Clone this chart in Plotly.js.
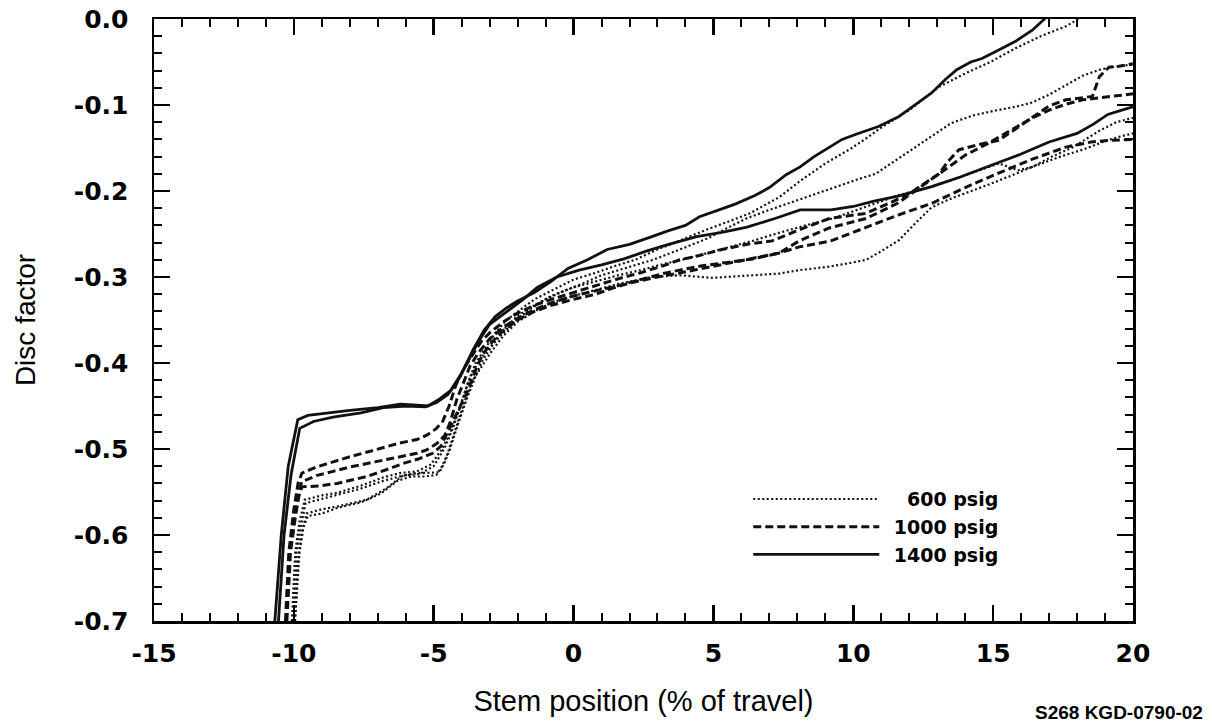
<!DOCTYPE html>
<html>
<head>
<meta charset="utf-8">
<script src="https://cdn.plot.ly/plotly-3.0.1.min.js"></script>
<style>html,body{margin:0;padding:0;background:#fff;}#chart{width:1212px;height:724px;}</style>
</head>
<body>
<div id="chart"></div>
<script>
// ---- Data ----
// 1400 psig (solid)
const s1400aX = [-10.68,-10.45,-10.2,-10.0,-9.86,-9.5,-9.0,-8.0,-7.0,-6.2,-5.6,-5.2,-4.8,-4.4,-4.0,-3.6,-3.2,-2.8,-2.4,-2.0,-1.4,-0.8,-0.2,0.5,1.2,2.0,2.8,3.4,4.0,4.5,5.2,5.8,6.5,7.0,7.6,8.1,8.6,9.1,9.6,10.1,10.9,11.6,12.2,12.8,13.3,13.7,14.2,14.6,15.2,15.8,16.4,16.7,17.0];
const s1400aY = [-0.70,-0.60,-0.52,-0.49,-0.466,-0.461,-0.459,-0.455,-0.452,-0.448,-0.449,-0.450,-0.442,-0.432,-0.412,-0.385,-0.362,-0.346,-0.336,-0.328,-0.318,-0.305,-0.290,-0.280,-0.268,-0.262,-0.253,-0.246,-0.240,-0.230,-0.222,-0.215,-0.205,-0.196,-0.181,-0.172,-0.160,-0.150,-0.140,-0.134,-0.125,-0.114,-0.100,-0.086,-0.070,-0.059,-0.050,-0.046,-0.036,-0.026,-0.013,-0.004,0.005];
const s1400bX = [-10.55,-10.35,-10.1,-9.9,-9.79,-9.3,-8.6,-7.6,-6.8,-6.0,-5.3,-4.9,-4.5,-4.18,-3.8,-3.4,-3.0,-2.6,-2.2,-1.8,-1.3,-0.6,0.2,1.0,1.8,2.6,3.4,4.4,5.3,6.2,7.2,8.1,9.2,10.0,10.7,11.6,12.8,13.8,15.1,16.0,17.0,18.0,18.6,19.1,19.6,20.0];
const s1400bY = [-0.70,-0.60,-0.53,-0.495,-0.476,-0.468,-0.463,-0.458,-0.452,-0.450,-0.451,-0.446,-0.437,-0.423,-0.400,-0.375,-0.355,-0.345,-0.335,-0.326,-0.312,-0.300,-0.292,-0.286,-0.279,-0.270,-0.262,-0.253,-0.248,-0.242,-0.232,-0.222,-0.222,-0.218,-0.212,-0.206,-0.195,-0.184,-0.168,-0.157,-0.143,-0.133,-0.122,-0.111,-0.106,-0.102];

// 1000 psig (dashed)
const s1000aX = [-10.30,-10.18,-10.0,-9.85,-9.71,-9.2,-8.6,-8.0,-7.2,-6.21,-5.6,-5.25,-4.9,-4.68,-4.45,-4.2,-3.9,-3.6,-3.3,-3.0,-2.5,-2.0,-1.4,-0.8,0.0,0.8,1.6,2.4,3.2,3.8,4.5,5.3,6.2,7.1,8.07,9.14,10.45,11.3,12.0,12.6,13.06,13.4,13.78,14.5,15.2,15.8,16.4,17.0,17.6,18.2,18.55,18.8,19.14,19.5,20.0];
const s1000aY = [-0.70,-0.62,-0.57,-0.54,-0.528,-0.521,-0.515,-0.509,-0.502,-0.493,-0.489,-0.484,-0.476,-0.468,-0.450,-0.425,-0.405,-0.390,-0.375,-0.365,-0.352,-0.342,-0.333,-0.326,-0.318,-0.310,-0.302,-0.295,-0.287,-0.280,-0.275,-0.268,-0.262,-0.258,-0.245,-0.232,-0.226,-0.214,-0.203,-0.190,-0.180,-0.165,-0.152,-0.146,-0.141,-0.128,-0.114,-0.101,-0.094,-0.091,-0.090,-0.067,-0.056,-0.055,-0.052];
const s1000bX = [-10.27,-10.15,-9.98,-9.84,-9.71,-9.2,-8.6,-8.0,-7.1,-6.21,-5.6,-5.25,-4.9,-4.6,-4.4,-4.18,-3.95,-3.71,-3.4,-3.0,-2.5,-2.0,-1.4,-0.8,0.0,0.8,1.6,2.4,3.2,3.79,4.6,5.5,6.4,7.36,8.07,9.14,10.45,11.6,12.83,13.5,14.02,14.8,15.7,16.4,17.0,17.6,18.2,19.0,19.5,20.0];
const s1000bY = [-0.70,-0.62,-0.575,-0.55,-0.538,-0.531,-0.526,-0.521,-0.515,-0.509,-0.505,-0.501,-0.494,-0.484,-0.468,-0.443,-0.423,-0.404,-0.388,-0.372,-0.358,-0.348,-0.338,-0.330,-0.322,-0.316,-0.310,-0.303,-0.296,-0.292,-0.287,-0.283,-0.279,-0.272,-0.258,-0.243,-0.232,-0.214,-0.185,-0.170,-0.158,-0.145,-0.128,-0.115,-0.106,-0.099,-0.094,-0.091,-0.089,-0.087];
const s1000cX = [-10.25,-10.12,-9.95,-9.82,-9.71,-9.1,-8.46,-7.39,-6.6,-6.11,-5.5,-5.04,-4.75,-4.5,-4.2,-3.82,-3.5,-3.25,-2.9,-2.5,-2.0,-1.4,-0.8,0.0,0.8,1.4,2.0,3.0,4.0,4.96,6.0,7.36,8.07,9.2,10.45,11.6,12.83,14.0,15.21,16.4,17.6,18.5,19.2,20.0];
const s1000cY = [-0.70,-0.62,-0.58,-0.555,-0.544,-0.543,-0.540,-0.532,-0.523,-0.517,-0.511,-0.505,-0.497,-0.480,-0.460,-0.435,-0.408,-0.390,-0.375,-0.362,-0.350,-0.340,-0.333,-0.326,-0.320,-0.313,-0.307,-0.300,-0.294,-0.288,-0.281,-0.272,-0.265,-0.258,-0.242,-0.228,-0.214,-0.196,-0.179,-0.163,-0.149,-0.143,-0.141,-0.140];

// 600 psig (dotted)
const s600aX = [-10.07,-9.95,-9.8,-9.61,-9.0,-8.46,-7.54,-6.8,-6.21,-5.6,-5.1,-4.7,-4.4,-4.1,-3.8,-3.5,-3.2,-2.8,-2.4,-2.0,-1.4,-0.8,0.0,0.8,1.4,2.2,3.0,4.0,4.75,5.5,6.3,7.36,8.07,9.0,9.85,10.5,11.05,12.0,13.06,14.02,14.9,15.8,16.7,17.6,18.2];
const s600aY = [-0.70,-0.62,-0.585,-0.559,-0.554,-0.551,-0.542,-0.533,-0.528,-0.526,-0.518,-0.500,-0.480,-0.455,-0.425,-0.400,-0.385,-0.365,-0.350,-0.340,-0.326,-0.316,-0.303,-0.295,-0.288,-0.280,-0.268,-0.255,-0.245,-0.236,-0.226,-0.207,-0.189,-0.168,-0.152,-0.138,-0.125,-0.106,-0.079,-0.063,-0.050,-0.034,-0.020,-0.0085,0.003];
const s600bX = [-10.0,-9.9,-9.75,-9.58,-9.0,-8.4,-7.6,-6.8,-6.1,-5.5,-5.0,-4.6,-4.3,-4.0,-3.7,-3.4,-3.0,-2.6,-2.2,-1.6,-1.0,-0.4,0.3,1.0,1.8,2.84,3.8,4.8,5.5,6.17,7.0,8.07,9.26,10.2,10.8,11.5,12.25,13.0,13.5,14.3,15.0,15.8,16.4,17.0,17.6,18.2,18.8,19.4,20.0];
const s600bY = [-0.70,-0.62,-0.59,-0.563,-0.558,-0.553,-0.546,-0.537,-0.531,-0.529,-0.520,-0.498,-0.475,-0.445,-0.417,-0.398,-0.382,-0.368,-0.355,-0.338,-0.326,-0.317,-0.308,-0.298,-0.290,-0.280,-0.268,-0.255,-0.243,-0.232,-0.222,-0.210,-0.196,-0.186,-0.180,-0.165,-0.148,-0.132,-0.121,-0.112,-0.107,-0.102,-0.097,-0.088,-0.077,-0.066,-0.059,-0.055,-0.053];
const s600cX = [-9.96,-9.85,-9.7,-9.54,-9.0,-8.46,-7.39,-6.7,-6.11,-5.6,-5.39,-4.79,-4.6,-4.43,-4.1,-3.82,-3.5,-3.25,-2.64,-2.0,-1.4,-0.8,0.0,0.8,1.6,2.4,3.2,4.0,4.8,5.6,6.4,7.2,8.07,9.26,10.45,11.6,12.83,14.0,15.21,15.9,16.4,17.1,17.8,18.8,19.4,20.0];
const s600cY = [-0.70,-0.63,-0.595,-0.575,-0.570,-0.567,-0.559,-0.546,-0.531,-0.528,-0.528,-0.527,-0.515,-0.501,-0.468,-0.442,-0.415,-0.397,-0.366,-0.345,-0.333,-0.322,-0.312,-0.305,-0.298,-0.292,-0.285,-0.279,-0.272,-0.265,-0.258,-0.250,-0.242,-0.232,-0.218,-0.205,-0.195,-0.182,-0.168,-0.176,-0.172,-0.160,-0.150,-0.130,-0.120,-0.115];
const s600dX = [-9.96,-9.8,-9.65,-9.5,-9.0,-8.4,-7.6,-6.9,-6.3,-5.8,-5.3,-4.9,-4.7,-4.5,-4.2,-3.9,-3.6,-3.3,-2.9,-2.5,-2.0,-1.4,-0.8,0.0,0.8,1.6,2.82,3.8,4.96,6.0,7.36,8.07,9.14,10.0,10.46,11.0,11.64,12.2,12.8,13.4,14.0,14.8,15.5,16.4,17.4,18.2,19.0,19.5,20.0];
const s600dY = [-0.70,-0.62,-0.59,-0.578,-0.575,-0.568,-0.562,-0.552,-0.537,-0.532,-0.532,-0.530,-0.520,-0.505,-0.475,-0.445,-0.420,-0.405,-0.385,-0.368,-0.352,-0.340,-0.330,-0.322,-0.315,-0.308,-0.300,-0.298,-0.301,-0.299,-0.296,-0.292,-0.288,-0.283,-0.280,-0.270,-0.257,-0.238,-0.219,-0.210,-0.203,-0.193,-0.184,-0.172,-0.160,-0.152,-0.142,-0.137,-0.133];

const legendNames = ['\u2002\u2007600 psig', '\u20021000 psig', '\u20021400 psig'];
const xTickVals = [-15, -10, -5, 0, 5, 10, 15, 20];
const xTickText = ['-15', '-10', '-5', '0', '5', '10', '15', '20'];
const yTickVals = [-0.7, -0.6, -0.5, -0.4, -0.3, -0.2, -0.1, 0.0];
const yTickText = ['-0.7', '-0.6', '-0.5', '-0.4', '-0.3', '-0.2', '-0.1', '0.0'];

// ---- Styles ----
const dotLine = {color: '#111', width: 2.2, dash: '2px,2.5px'};
const dashLine = {color: '#111', width: 3, dash: '8px,4px'};
const solidLine = {color: '#111', width: 2.8};

function tr(x, y, line, name, show, group) {
  return {x: x, y: y, type: 'scatter', mode: 'lines', line: line, name: name,
          showlegend: show, legendgroup: group, hoverinfo: 'skip'};
}

const traces = [
  tr(s600aX, s600aY, dotLine, legendNames[0], true, 'p600'),
  tr(s600bX, s600bY, dotLine, legendNames[0], false, 'p600'),
  tr(s600cX, s600cY, dotLine, legendNames[0], false, 'p600'),
  tr(s600dX, s600dY, dotLine, legendNames[0], false, 'p600'),
  tr(s1000aX, s1000aY, dashLine, legendNames[1], true, 'p1000'),
  tr(s1000bX, s1000bY, dashLine, legendNames[1], false, 'p1000'),
  tr(s1000cX, s1000cY, dashLine, legendNames[1], false, 'p1000'),
  tr(s1400aX, s1400aY, solidLine, legendNames[2], true, 'p1400'),
  tr(s1400bX, s1400bY, solidLine, legendNames[2], false, 'p1400')
];

const tickFont = {family: 'DejaVu Sans', size: 25, color: '#000', weight: 'bold'};
const axisCommon = {
  showgrid: false, zeroline: false, showline: true, linecolor: '#000', linewidth: 2.5,
  mirror: 'allticks', ticks: 'inside', ticklen: 16, tickwidth: 2.5, tickcolor: '#000',
  tickfont: tickFont, tickmode: 'array'
};

const layout = {
  width: 1212, height: 724,
  margin: {l: 154, r: 79, t: 19, b: 103},
  paper_bgcolor: '#fff', plot_bgcolor: '#fff',
  showlegend: true,
  legend: {
    x: 0.607, y: 0.234, xanchor: 'left', yanchor: 'top',
    bgcolor: 'rgba(0,0,0,0)', borderwidth: 0, itemwidth: 126,
    font: {family: 'DejaVu Sans', size: 19, color: '#000', weight: 'bold'},
    tracegroupgap: 0
  },
  xaxis: Object.assign({}, axisCommon, {
    range: [-15, 20], tickvals: xTickVals, ticktext: xTickText,
    ticklabelstandoff: 8,
    minor: {dtick: 1, tick0: 0, ticklen: 8, tickwidth: 2, tickcolor: '#000', ticks: 'inside'},
    title: {text: 'Stem position (% of travel)', standoff: 24,
            font: {family: 'Liberation Sans', size: 29, color: '#000'}}
  }),
  yaxis: Object.assign({}, axisCommon, {
    range: [-0.7, 0], tickvals: yTickVals, ticktext: yTickText,
    ticklabelstandoff: 18,
    minor: {dtick: 0.02, tick0: 0, ticklen: 8, tickwidth: 2, tickcolor: '#000', ticks: 'inside'},
    title: {text: 'Disc factor', standoff: 30,
            font: {family: 'Liberation Sans', size: 28, color: '#000'}}
  }),
  annotations: [{
    text: 'S268 KGD-0790-02', xref: 'paper', yref: 'paper',
    x: 1.074, y: -0.152, xanchor: 'right', yanchor: 'middle', showarrow: false,
    font: {family: 'Liberation Sans', size: 19, color: '#000', weight: 'bold'}
  }]
};

Plotly.newPlot('chart', traces, layout, {staticPlot: true, displayModeBar: false});
</script>
</body>
</html>
